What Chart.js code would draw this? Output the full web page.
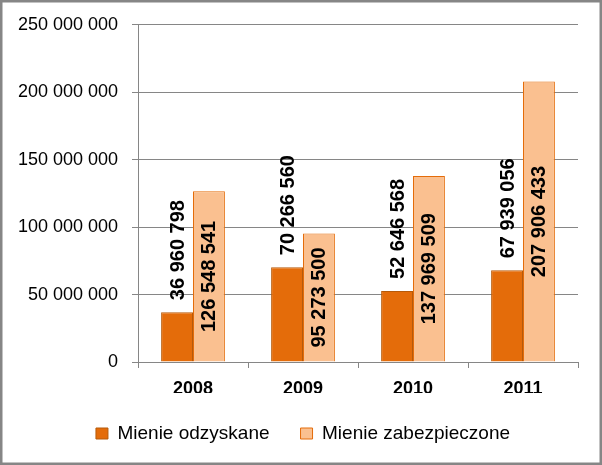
<!DOCTYPE html>
<html>
<head>
<meta charset="utf-8">
<script src="https://cdn.jsdelivr.net/npm/chart.js@4.4.0/dist/chart.umd.min.js"></script>
<style>
  html, body { margin: 0; padding: 0; background: #fff; }
  #wrap { width: 602px; height: 465px; }
</style>
</head>
<body>
<div id="wrap"><canvas id="chart" width="602" height="465"></canvas></div>
<script>
// dane
var years = ["2008", "2009", "2010", "2011"];
var odzyskane = [36960798, 70266560, 52646568, 67939056];
var zabezpieczone = [126548541, 95273500, 137969509, 207906433];
var yTicks = [0, 50000000, 100000000, 150000000, 200000000, 250000000];

// format liczb ze spacją co 3 cyfry
function fmt(v) {
    return String(Math.round(v)).replace(/\B(?=(\d{3})+(?!\d))/g, " ");
}

var FONT = "'Liberation Sans', Arial, sans-serif";

// ramka + tło, legenda lekko w prawo
var framePlugin = {
    id: "frame",
    afterLayout: function (chart) {
        if (chart.legend) {
            chart.legend.left += 7;
            chart.legend.right += 7;
        }
    },
    beforeDraw: function (chart) {
        var c = chart.ctx;
        c.save();
        c.fillStyle = "#fff";
        c.fillRect(0, 0, chart.width, chart.height);
        c.restore();
    },
    afterDraw: function (chart) {
        var c = chart.ctx;
        c.save();
        c.strokeStyle = "#868686";
        c.lineWidth = 3;
        c.strokeRect(1, 1, chart.width - 2, chart.height - 2);
        c.restore();
    }
};

// etykiety wartości (obrócone o 90 stopni)
var labelPlugin = {
    id: "valueLabels",
    afterDatasetsDraw: function (chart) {
        var c = chart.ctx;
        c.save();
        c.font = "bold 20px " + FONT;
        c.fillStyle = "#000";
        c.textBaseline = "middle";
        chart.data.datasets.forEach(function (ds, di) {
            var meta = chart.getDatasetMeta(di);
            meta.data.forEach(function (bar, i) {
                var txt = fmt(ds.data[i]);
                c.save();
                if (di === 0) {
                    c.translate(bar.x, bar.y - 12);
                    c.rotate(-Math.PI / 2);
                    c.textAlign = "left";
                } else {
                    c.translate(bar.x, (bar.y + bar.base) / 2);
                    c.rotate(-Math.PI / 2);
                    c.textAlign = "center";
                }
                c.fillText(txt, 0, 1);
                c.restore();
            });
        });
        c.restore();
    }
};

var ctx = document.getElementById("chart").getContext("2d");
var myChart = new Chart(ctx, {
    type: "bar",
    data: {
        labels: years,
        datasets: [{
            label: "Mienie odzyskane",
            data: odzyskane,
            backgroundColor: "#E46C0A",
            borderColor: "#B65A0A",
            borderWidth: 1,
            categoryPercentage: 0.58,
            barPercentage: 1.0
        }, {
            label: "Mienie zabezpieczone",
            data: zabezpieczone,
            backgroundColor: "#FAC090",
            borderColor: "#E46C0A",
            borderWidth: 1,
            categoryPercentage: 0.58,
            barPercentage: 1.0
        }]
    },
    options: {
        responsive: false,
        animation: false,
        layout: { padding: { top: 24, left: 14, right: 24, bottom: 12 } },
        plugins: {
            legend: {
                position: "bottom",
                labels: {
                    font: { family: FONT, size: 19 },
                    color: "#000",
                    boxWidth: 12,
                    boxHeight: 11,
                    padding: 31
                }
            },
            tooltip: { enabled: false }
        },
        scales: {
            x: {
                grid: {
                    offset: true,
                    drawOnChartArea: false,
                    drawTicks: true,
                    tickLength: 6,
                    color: "#868686"
                },
                border: { color: "#868686", width: 1 },
                ticks: {
                    font: { family: FONT, size: 18, weight: "bold" },
                    color: "#000",
                    padding: 10
                },
                afterFit: function (s) { s.height = 31; }
            },
            y: {
                min: 0,
                max: 250000000,
                afterBuildTicks: function (s) {
                    s.ticks = yTicks.map(function (v) { return { value: v }; });
                },
                grid: {
                    color: "#868686",
                    tickLength: 6
                },
                border: { color: "#868686", width: 1 },
                ticks: {
                    font: { family: FONT, size: 18 },
                    color: "#000",
                    padding: 14,
                    callback: function (v) { return fmt(v); }
                },
                afterFit: function (s) { s.width = 124; }
            }
        }
    },
    plugins: [framePlugin, labelPlugin]
});
</script>
</body>
</html>
